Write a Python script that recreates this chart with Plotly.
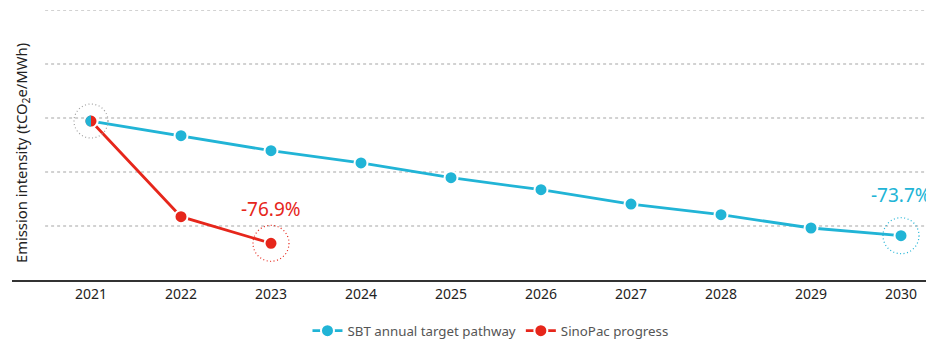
import plotly.graph_objects as go

# Emission intensity (tCO2e/MWh)
years = [2021, 2022, 2023, 2024, 2025, 2026, 2027, 2028, 2029, 2030]
sbt_pathway = [0.2944, 0.2672, 0.2394, 0.2167, 0.1894, 0.1672, 0.1407, 0.1209, 0.0963, 0.0820]
progress_years = [2021, 2022, 2023]
sinopac_progress = [0.2944, 0.1172, 0.0680]
grid_levels = [0.1, 0.2, 0.3, 0.4, 0.5]

BLUE = "#21b4d6"
RED = "#e6261b"
FONT = "Noto Sans"

fig = go.Figure()

fig.add_trace(go.Scatter(
    x=years, y=sbt_pathway, name="SBT annual target pathway",
    mode="lines+markers", cliponaxis=False,
    line=dict(color=BLUE, width=2.8),
    marker=dict(size=13, color=BLUE, line=dict(color="white", width=2)),
))
fig.add_trace(go.Scatter(
    x=progress_years, y=sinopac_progress, name="SinoPac progress",
    mode="lines+markers", cliponaxis=False,
    line=dict(color=RED, width=2.8),
    marker=dict(size=13, color=RED, line=dict(color="white", width=2)),
))

shapes = []
# dotted horizontal guides
for g in grid_levels:
    shapes.append(dict(type="line", layer="below", xref="x", yref="y",
                       x0=2020.49, x1=2030.28, y0=g, y1=g,
                       line=dict(color="#c4c4c4", width=1.5, dash="dot")))

# dotted halo rings around highlighted points
def ring(x, y, color, r):
    return dict(type="circle", xref="x", yref="y", layer="above",
                xsizemode="pixel", ysizemode="pixel", xanchor=x, yanchor=y,
                x0=-r, x1=r, y0=-r, y1=r,
                line=dict(color=color, width=1.2, dash="1px,2.5px"))

shapes.append(ring(years[0], sbt_pathway[0], "#a0a0a0", 17))
shapes.append(ring(progress_years[-1], sinopac_progress[-1], RED, 18))
shapes.append(ring(years[-1], sbt_pathway[-1], BLUE, 18))

# left half of the shared 2021 point in the pathway colour
r = 5.6
k = 0.5523 * r
half = (f"M 0,{-r} C {-k},{-r} {-r},{-k} {-r},0 "
        f"C {-r},{k} {-k},{r} 0,{r} Z")
shapes.append(dict(type="path", xref="x", yref="y", layer="above",
                   xsizemode="pixel", ysizemode="pixel",
                   xanchor=years[0], yanchor=sbt_pathway[0],
                   path=half, fillcolor=BLUE, line=dict(width=0)))

annotations = [
    dict(x=progress_years[-1], y=sinopac_progress[-1], xref="x", yref="y",
         text="-76.9%", showarrow=False, yanchor="middle", yshift=34,
         font=dict(family=FONT, size=19, color=RED)),
    dict(x=years[-1], y=sbt_pathway[-1], xref="x", yref="y",
         text="-73.7%", showarrow=False, yanchor="middle", yshift=41,
         font=dict(family=FONT, size=19, color=BLUE)),
    dict(x=0, y=0.47, xref="paper", yref="paper", xshift=10,
         text="Emission intensity (tCO<sub>2</sub>e/MWh)", textangle=-90,
         showarrow=False, xanchor="center", yanchor="middle",
         font=dict(family=FONT, size=14.8, color="#222222")),
]

fig.update_layout(
    width=926, height=341,
    margin=dict(l=12, r=0, t=10, b=61, autoexpand=False),
    paper_bgcolor="white", plot_bgcolor="white",
    font=dict(family=FONT),
    shapes=shapes, annotations=annotations,
    showlegend=True,
    legend=dict(orientation="h", x=0.5235, y=-0.189, xanchor="center",
                yanchor="middle", font=dict(family=FONT, size=13.3, color="#555555"),
                bgcolor="rgba(0,0,0,0)"),
    xaxis=dict(range=[2020.1222, 2030.2778], tickvals=years,
               ticktext=[str(y) for y in years], ticks="",
               showgrid=False, zeroline=False, showline=True,
               linecolor="#333333", linewidth=1.5,
               tickfont=dict(family=FONT, size=14, color="#222222"),
               fixedrange=True),
    yaxis=dict(range=[0, 0.5], showgrid=False, zeroline=False,
               showticklabels=False, showline=False, fixedrange=True),
)

fig.write_html("out.html")
